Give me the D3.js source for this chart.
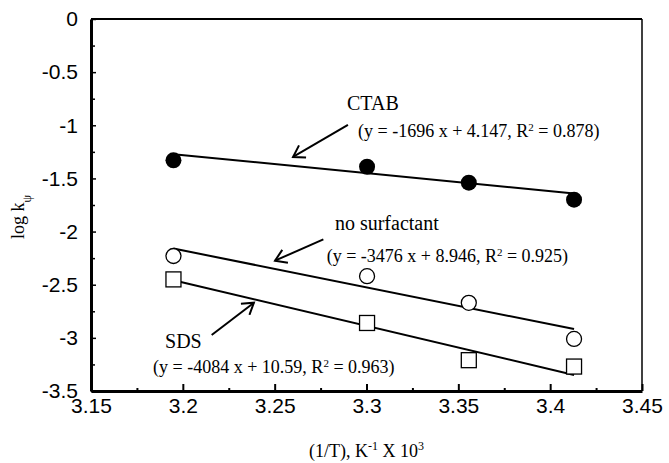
<!DOCTYPE html>
<html>
<head>
<meta charset="utf-8">
<script src="https://cdn.jsdelivr.net/npm/d3@7"></script>
<style>
  html, body { margin: 0; padding: 0; background: #fff; }
  svg { display: block; }
</style>
</head>
<body>
<svg width="669" height="463"></svg>
<script>
// données : 1/T (x 10^3) pour T = 313, 303, 298, 293 K
const invT = [3.1949, 3.3003, 3.3557, 3.4130];
const ctab = [-1.33, -1.39, -1.54, -1.70];
const noSurf = [-2.23, -2.42, -2.67, -3.01];
const sds = [-2.45, -2.86, -3.21, -3.27];

// droites de régression (pente en unités de 10^3 K)
const fitSlopes = [-1.696, -3.476, -4.084];
const fitIntercepts = [4.147, 8.946, 10.59];

const xTicks = [3.15, 3.2, 3.25, 3.3, 3.35, 3.4, 3.45];
const yTicks = [0, -0.5, -1, -1.5, -2, -2.5, -3, -3.5];

const seriesNames = ['CTAB', 'no surfactant', 'SDS'];
const equations = [
    ['(y = -1696 x + 4.147, R', '2', ' = 0.878)'],
    ['(y = -3476 x + 8.946, R', '2', ' = 0.925)'],
    ['(y = -4084 x + 10.59, R', '2', ' = 0.963)']
];
// positions des annotations en unités des données
const labelPos = [[3.2894, -0.856], [3.2828, -1.985], [3.1903, -3.095]];
const eqPos = [[3.2954, -1.110], [3.2783, -2.283], [3.1838, -3.330]];
const arrowFrom = [[3.2899, -0.997], [3.2765, -2.073], [3.2157, -2.973]];
const arrowTo = [[3.2600, -1.298], [3.2502, -2.274], [3.2387, -2.669]];

const svg = d3.select('svg');
const margens = { left: 91, right: 27, top: 19, bottom: 72 };
const width = +svg.attr('width');
const height = +svg.attr('height');

const x = d3.scaleLinear().domain([3.15, 3.45]).range([margens.left, width - margens.right]);
const y = d3.scaleLinear().domain([-3.5, 0]).range([height - margens.bottom, margens.top]);

const sansFont = '"Liberation Sans", Arial, sans-serif';
const serifFont = '"Liberation Serif", "Times New Roman", serif';

// --- cadre (haut et droite plus fins) ---
svg.append('line')
    .attr('x1', x(3.15)).attr('x2', x(3.45))
    .attr('y1', y(0)).attr('y2', y(0))
    .attr('stroke', '#000').attr('stroke-width', 2);
svg.append('line')
    .attr('x1', x(3.45)).attr('x2', x(3.45))
    .attr('y1', y(0)).attr('y2', y(-3.5))
    .attr('stroke', '#000').attr('stroke-width', 1.5);

// --- axe Y ---
const yMinor = d3.range(-3.25, 0, 0.5);
svg.append('g')
    .attr('transform', `translate(${x(3.15)},0)`)
    .call(d3.axisLeft(y).tickValues(yMinor).tickSize(-4).tickSizeOuter(0).tickFormat(''))
    .call(g => g.select('.domain').remove())
    .selectAll('line').attr('stroke-width', 1.5);

const yAxis = svg.append('g')
    .attr('transform', `translate(${x(3.15)},0)`)
    .call(d3.axisLeft(y).tickValues(yTicks).tickSize(-5).tickSizeOuter(0)
        .tickPadding(13).tickFormat(d => String(d)));
yAxis.select('.domain').attr('stroke-width', 3);
yAxis.selectAll('line').attr('stroke-width', 1.5);
yAxis.selectAll('text')
    .style('font-family', sansFont)
    .style('font-size', '21px')
    .attr('fill', '#000');

// --- axe X ---
const xMinor = d3.range(3.175, 3.45, 0.05);
svg.append('g')
    .attr('transform', `translate(0,${y(-3.5)})`)
    .call(d3.axisBottom(x).tickValues(xMinor).tickSize(-3).tickSizeOuter(0).tickFormat(''))
    .call(g => g.select('.domain').remove())
    .selectAll('line').attr('stroke-width', 2);

const xAxis = svg.append('g')
    .attr('transform', `translate(0,${y(-3.5)})`)
    .call(d3.axisBottom(x).tickValues(xTicks).tickSize(-7).tickSizeOuter(0)
        .tickPadding(7).tickFormat(d => String(d)));
xAxis.select('.domain').attr('stroke-width', 3);
xAxis.selectAll('line').attr('stroke-width', 2);
xAxis.selectAll('text')
    .style('font-family', sansFont)
    .style('font-size', '21px')
    .attr('fill', '#000');

// --- titres des axes ---
const xTitle = svg.append('text')
    .attr('x', (x(3.15) + x(3.45)) / 2)
    .attr('y', 457)
    .attr('text-anchor', 'middle')
    .style('font-family', serifFont)
    .style('font-size', '18px');
xTitle.append('tspan').text('(1/T), K');
xTitle.append('tspan').attr('baseline-shift', 'super').style('font-size', '12px').text('-1');
xTitle.append('tspan').text(' X 10');
xTitle.append('tspan').attr('baseline-shift', 'super').style('font-size', '12px').text('3');

const yTitle = svg.append('text')
    .attr('transform', `translate(24,${(y(0) + y(-3.5)) / 2 + 12}) rotate(-90)`)
    .attr('text-anchor', 'middle')
    .style('font-family', serifFont)
    .style('font-size', '18px');
yTitle.append('tspan').text('log k');
yTitle.append('tspan').attr('baseline-shift', 'sub').style('font-size', '12px').text('ψ');

// --- droites de régression ---
fitSlopes.forEach((m, i) => {
    const x0 = invT[0], x1 = invT[invT.length - 1];
    svg.append('line')
        .attr('x1', x(x0)).attr('y1', y(m * x0 + fitIntercepts[i]))
        .attr('x2', x(x1)).attr('y2', y(m * x1 + fitIntercepts[i]))
        .attr('stroke', '#000')
        .attr('stroke-width', 2);
});

// --- points ---
svg.selectAll('.ctab')
    .data(invT.map((v, i) => [v, ctab[i]]))
    .enter().append('circle')
    .attr('cx', d => x(d[0])).attr('cy', d => y(d[1]))
    .attr('r', 8)
    .attr('fill', '#000');

svg.selectAll('.nosurf')
    .data(invT.map((v, i) => [v, noSurf[i]]))
    .enter().append('circle')
    .attr('cx', d => x(d[0])).attr('cy', d => y(d[1]))
    .attr('r', 7.5)
    .attr('fill', '#fff')
    .attr('stroke', '#000')
    .attr('stroke-width', 1.3);

svg.selectAll('.sds')
    .data(invT.map((v, i) => [v, sds[i]]))
    .enter().append('rect')
    .attr('x', d => x(d[0]) - 7.5).attr('y', d => y(d[1]) - 7.5)
    .attr('width', 15).attr('height', 15)
    .attr('fill', '#fff')
    .attr('stroke', '#000')
    .attr('stroke-width', 1.3);

// --- flèches ---
svg.append('defs').append('marker')
    .attr('id', 'pointe')
    .attr('viewBox', '-12 -8 14 16')
    .attr('refX', 0).attr('refY', 0)
    .attr('markerWidth', 14).attr('markerHeight', 16)
    .attr('markerUnits', 'userSpaceOnUse')
    .attr('orient', 'auto')
    .append('path')
    .attr('d', 'M-11,-7 L0,0 L-11,7')
    .attr('fill', 'none')
    .attr('stroke', '#000')
    .attr('stroke-width', 2);

arrowFrom.forEach((p, i) => {
    svg.append('line')
        .attr('x1', x(p[0])).attr('y1', y(p[1]))
        .attr('x2', x(arrowTo[i][0])).attr('y2', y(arrowTo[i][1]))
        .attr('stroke', '#000')
        .attr('stroke-width', 2)
        .attr('marker-end', 'url(#pointe)');
});

// --- étiquettes et équations ---
seriesNames.forEach((name, i) => {
    svg.append('text')
        .attr('x', x(labelPos[i][0])).attr('y', y(labelPos[i][1]))
        .style('font-family', serifFont)
        .style('font-size', '20px')
        .text(name);

    const eq = svg.append('text')
        .attr('x', x(eqPos[i][0])).attr('y', y(eqPos[i][1]))
        .style('font-family', serifFont)
        .style('font-size', '18px');
    eq.append('tspan').text(equations[i][0]);
    eq.append('tspan').attr('baseline-shift', 'super').style('font-size', '11px').text(equations[i][1]);
    eq.append('tspan').text(equations[i][2]);
});
</script>
</body>
</html>
